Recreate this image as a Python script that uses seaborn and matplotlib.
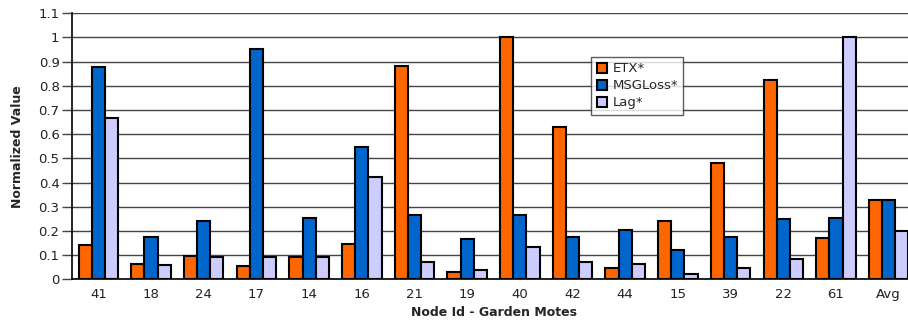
import numpy as np
import pandas as pd
import matplotlib
matplotlib.use("Agg")
import matplotlib.pyplot as plt
import seaborn as sns

nodes = ["41", "18", "24", "17", "14", "16", "21", "19", "40", "42", "44", "15", "39", "22", "61", "Avg"]
etx = [0.142, 0.062, 0.095, 0.055, 0.091, 0.145, 0.882, 0.030, 1.000, 0.630, 0.045, 0.240, 0.480, 0.826, 0.172, 0.327]
msgloss = [0.879, 0.175, 0.241, 0.951, 0.255, 0.548, 0.266, 0.165, 0.266, 0.174, 0.205, 0.121, 0.176, 0.251, 0.252, 0.328]
lag = [0.668, 0.059, 0.091, 0.091, 0.091, 0.424, 0.070, 0.040, 0.134, 0.073, 0.063, 0.022, 0.048, 0.083, 1.000, 0.198]
series = ["ETX*", "MSGLoss*", "Lag*"]
colors = ["#FF6600", "#0066CC", "#CCCCFF"]

df = pd.DataFrame({
    "node": nodes * 3,
    "value": etx + msgloss + lag,
    "metric": [series[0]] * len(nodes) + [series[1]] * len(nodes) + [series[2]] * len(nodes),
})

sns.set_style("white")
plt.rcParams["font.family"] = ["DejaVu Sans"]

fig = plt.figure(figsize=(9.08, 3.22), dpi=100)
# plot area runs slightly past the right edge of the figure
ax = fig.add_axes([72 / 908, 1 - 279.3 / 322, 843 / 908, 266 / 322])

sns.barplot(data=df, x="node", y="value", hue="metric", order=nodes, hue_order=series,
            palette=colors, width=0.75, edgecolor="black", linewidth=1.5,
            saturation=1, ax=ax, zorder=3)

ax.set_ylim(0, 1.1)
ax.set_xlim(-0.5, len(nodes) - 0.5)
ax.set_yticks(np.arange(0, 1.101, 0.1))
ax.set_yticklabels(["0", "0.1", "0.2", "0.3", "0.4", "0.5", "0.6", "0.7", "0.8", "0.9", "1", "1.1"])
ax.yaxis.grid(True, color="#444444", linewidth=1.0, zorder=0)
ax.xaxis.grid(False)
ax.set_axisbelow(True)

for side in ["top", "right"]:
    ax.spines[side].set_visible(False)
for side in ["left", "bottom"]:
    ax.spines[side].set_color("black")
    ax.spines[side].set_linewidth(1.2)

ax.tick_params(axis="y", which="major", direction="out", length=7, width=1, color="#444444",
               labelsize=9.5, labelcolor="#222222", pad=2, left=True)
ax.tick_params(axis="x", length=0, labelsize=9.5, labelcolor="#222222", pad=6)

ax.set_xlabel("Node Id - Garden Motes", fontsize=9, fontweight="bold", labelpad=4)
ax.set_ylabel("Normalized Value", fontsize=9, fontweight="bold", labelpad=10)

leg = ax.legend(loc="upper left", bbox_to_anchor=(0.616, 0.835), borderaxespad=0,
                frameon=True, fancybox=False, edgecolor="#333333", fontsize=9.5,
                handlelength=0.8, handleheight=0.8, handletextpad=0.4,
                labelspacing=0.3, borderpad=0.4, title=None)
leg.get_frame().set_linewidth(1.0)
for h in leg.legend_handles:
    h.set_edgecolor("black")
    h.set_linewidth(1.5)

fig.savefig("out.png", dpi=100)
